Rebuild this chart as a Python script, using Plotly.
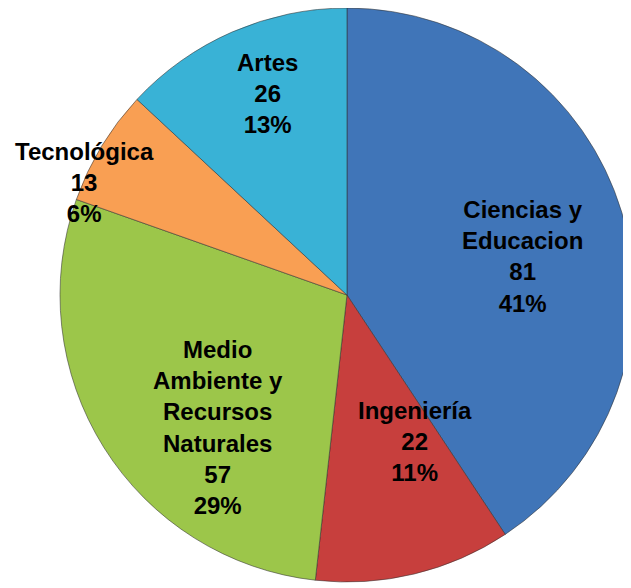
import plotly.graph_objects as go

categories = ["Ciencias y<br>Educacion", "Ingeniería", "Medio<br>Ambiente y<br>Recursos<br>Naturales", "Tecnológica", "Artes"]
values = [81, 22, 57, 13, 26]
percent_labels = ["41%", "11%", "29%", "6%", "13%"]
colors = ["#4075B8", "#C73F3D", "#9CC64A", "#F99F53", "#39B2D6"]
# label anchor points (paper fractions) where the original chart places its data labels
label_x = [0.815, 0.645, 0.333, 0.122, 0.412]
label_y = [0.578, 0.262, 0.287, 0.704, 0.855]

FONT = "Liberation Sans Narrow, Arial Narrow, Liberation Sans, Arial"

fig = go.Figure(go.Pie(
    labels=categories,
    values=values,
    customdata=percent_labels,
    textinfo="none",
    sort=False,
    direction="clockwise",
    rotation=0,
    marker=dict(colors=colors, line=dict(color="rgba(50,50,50,0.55)", width=1)),
    hovertemplate="%{label}<br>%{value}<br>%{customdata}<extra></extra>",
    domain=dict(x=[0.0824, 0.992], y=[0.0238, 1.0]),
    showlegend=False,
))

for cat, val, pct, lx, ly in zip(categories, values, percent_labels, label_x, label_y):
    fig.add_annotation(
        x=lx, y=ly, xref="paper", yref="paper",
        xanchor="center", yanchor="middle",
        text=f"{cat}<br>{val}<br>{pct}",
        showarrow=False,
        font=dict(family=FONT, size=24, color="black", weight="bold"),
        align="center",
    )

fig.update_layout(
    width=631, height=588,
    margin=dict(l=0, r=0, t=0, b=0),
    paper_bgcolor="white",
    plot_bgcolor="white",
)

fig.write_html("out.html")
